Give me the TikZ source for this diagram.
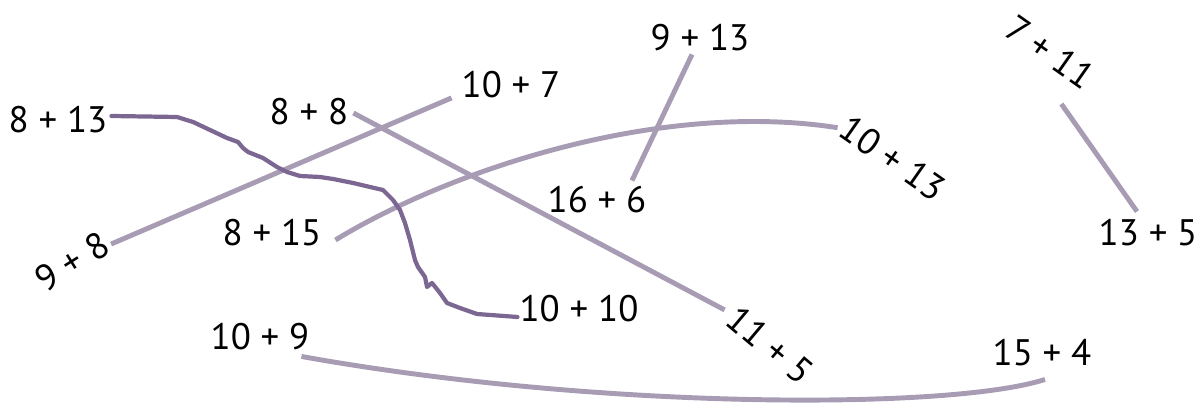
\documentclass[tikz,border=0pt]{standalone}
\usepackage{fontspec}
\setmainfont{PT Sans}
\usetikzlibrary{calc}
\definecolor{lilac}{HTML}{A89CB5}
\definecolor{plum}{HTML}{7B6791}
\tikzset{
  sum/.style={inner sep=1pt, font=\fontsize{21}{25}\selectfont},
  pair/.style={draw=lilac, line width=2.8pt},
  done/.style={draw=plum, line width=2.4pt, line join=round, line cap=round}
}
\begin{document}
\begin{tikzpicture}[x=0.02cm, y=-0.02cm]
  \useasboundingbox (0,0) rectangle (1197,404);
  % sums
  \node[sum] (s813) at (58,120) {8 + 13};
  \node[sum] (s88) at (309,112) {8 + 8};
  \node[sum] (s107) at (511,85) {10 + 7};
  \node[sum] (s913) at (700,38) {9 + 13};
  \node[sum, rotate=-35] (s711) at (1050,52) {7 + 11};
  \node[sum, rotate=-35] (s1013) at (893,158) {10 + 13};
  \node[sum] (s166) at (597,200) {16 + 6};
  \node[sum] (s815) at (272,233) {8 + 15};
  \node[sum, rotate=32] (s98) at (72,262) {9 + 8};
  \node[sum] (s135) at (1148,233) {13 + 5};
  \node[sum] (s1010) at (579,309) {10 + 10};
  \node[sum] (s109) at (260,337) {10 + 9};
  \node[sum, rotate=-40] (s115) at (770,345) {11 + 5};
  \node[sum] (s154) at (1042,353) {15 + 4};
  % pairs
  \draw[pair] ($(s98.east)+(4,4)$) -- ($(s107.base west)+(-8,0)$);
  \draw[pair] ($(s88.east)+(3,1)$) -- ($(s115.west)+(-6,-2)$);
  \draw[pair] ($(s913.south)+(-8,1)$) -- ($(s166.north)+(35,-4)$);
  \draw[pair] ($(s815.east)+(12,7)$) .. controls (450,170) and (660,100) .. ($(s1013.west)+(-5,5)$);
  \draw[pair] ($(s711.south east)+(-22,10)$) -- ($(s135.north)+(-11,-6)$);
  \draw[pair] ($(s109.south east)+(-10,4)$) .. controls (600,410) and (950,410) .. ($(s154.south)+(3,11)$);
  % matched
  \draw[done] ($(s813.east)+(2,-4)$) -- (177,117) -- (193,122) -- (210,130) -- (227,138)
    -- (238,142) -- (243,148) -- (248,152) -- (263,158) -- (277,167) -- (287,172)
    -- (300,176) -- (320,177) -- (333,179) -- (353,183) -- (370,187) -- (383,190)
    -- (393,200) -- (400,210) -- (405,223) -- (410,240) -- (415,260) -- (418,267)
    -- (425,277) -- (427,287) -- (432,283) -- (440,293) -- (447,303) -- (460,308)
    -- (477,314) -- ($(s1010.west)+(0,8)$);
\end{tikzpicture}
\end{document}
